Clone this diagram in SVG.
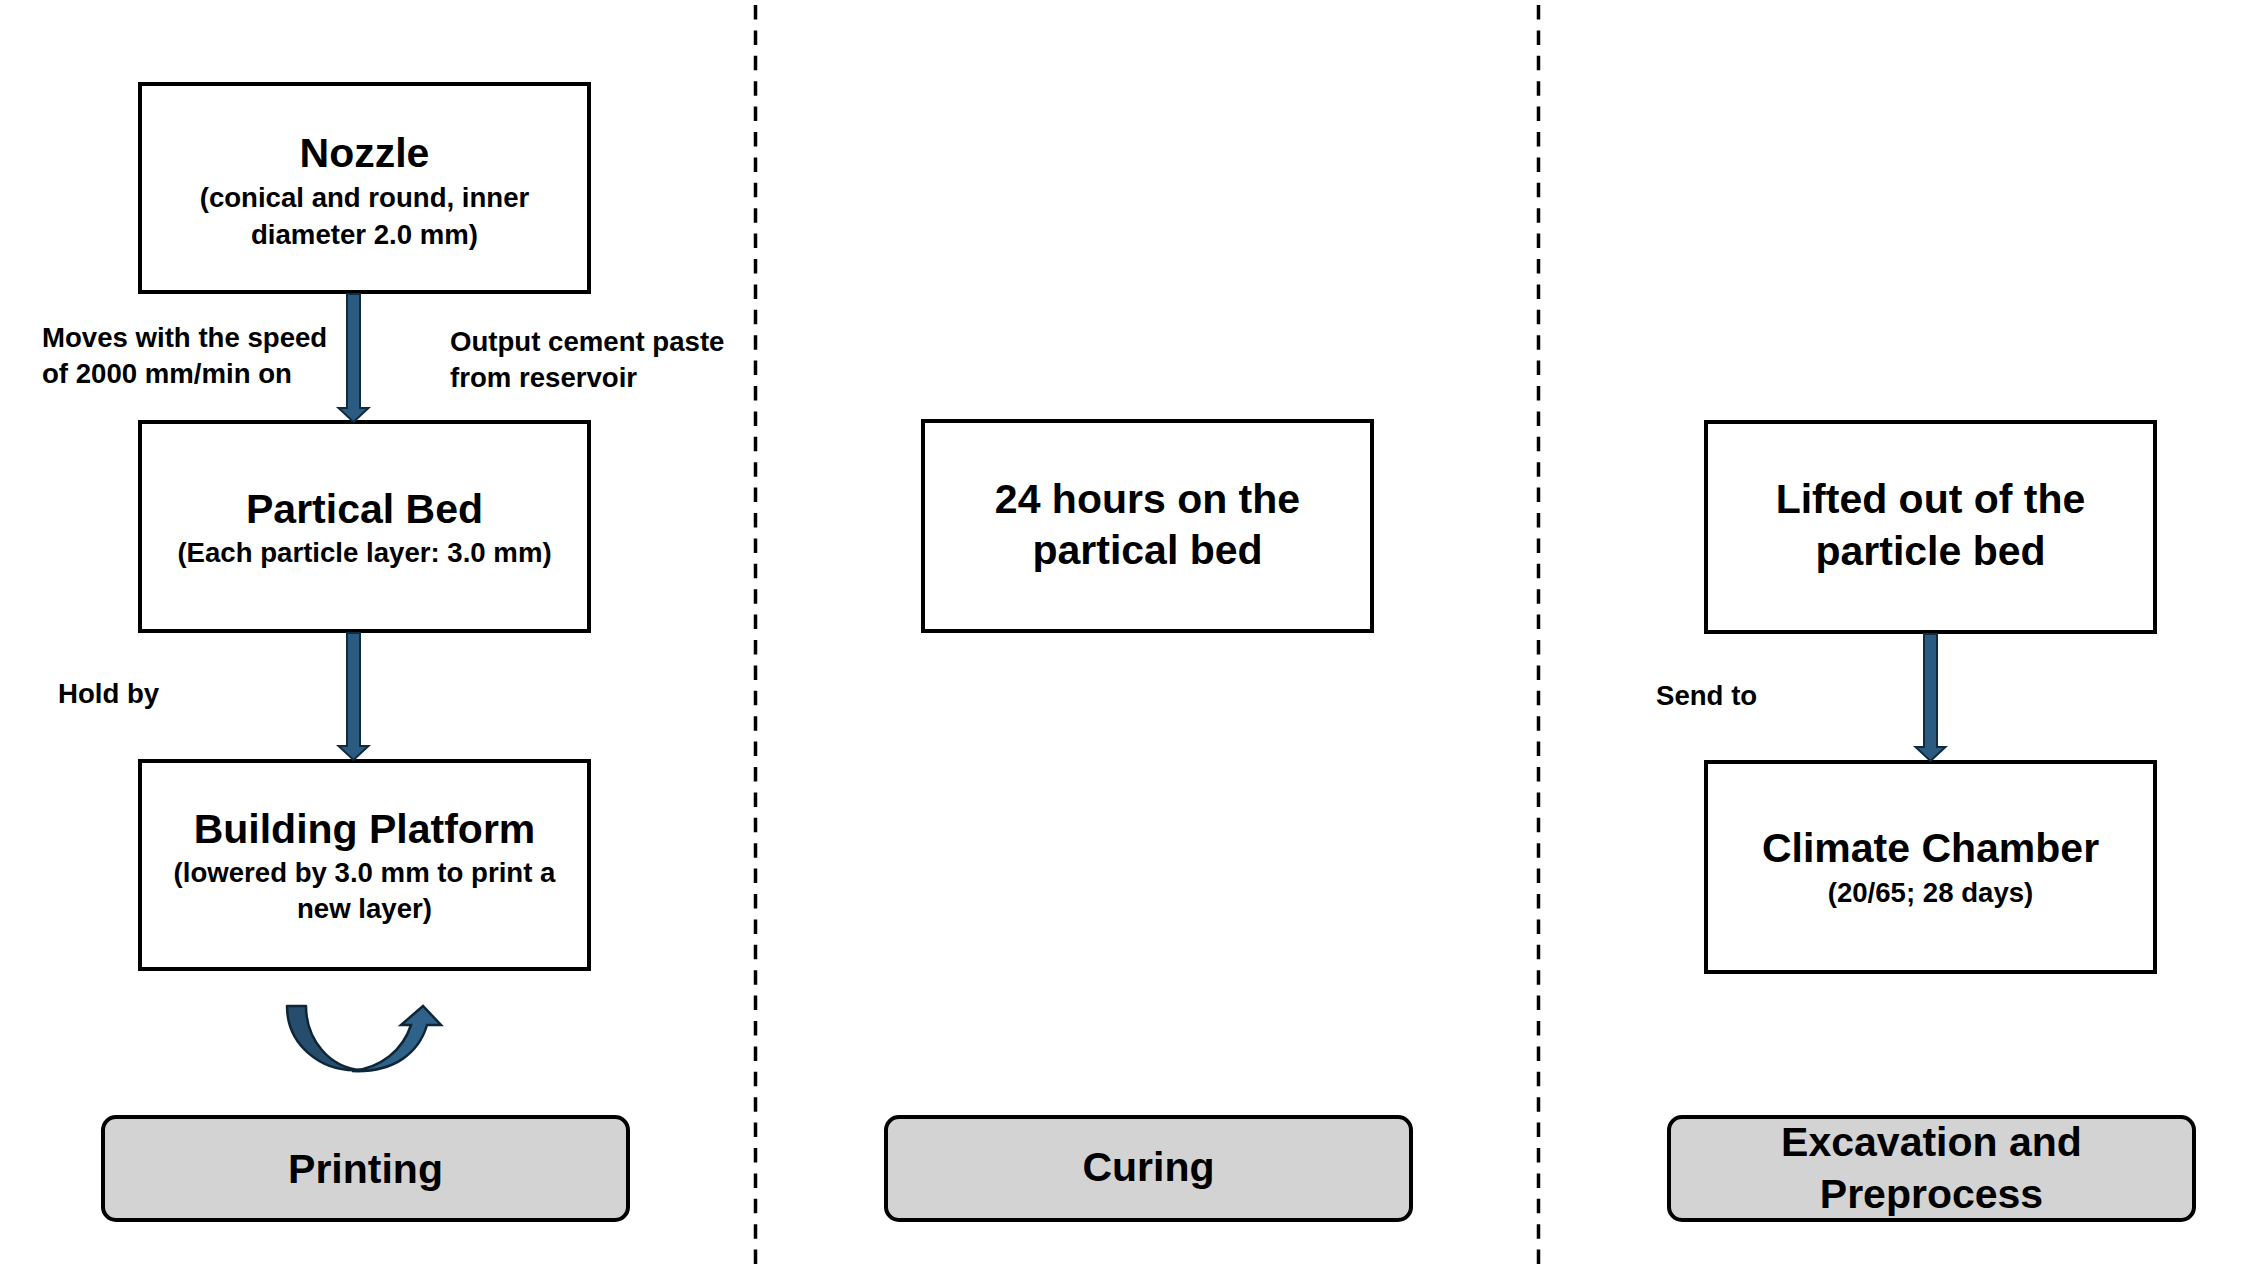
<svg xmlns="http://www.w3.org/2000/svg" width="2268" height="1266" viewBox="0 0 2268 1266">
<style>
  .box { fill: #ffffff; stroke: #000000; stroke-width: 4; }
  .phase { fill: #d3d3d3; stroke: #000000; stroke-width: 4; }
  .t { font-family: "Liberation Sans", Arial, sans-serif; font-weight: bold; fill: #000000; }
  .big { font-size: 41px; text-anchor: middle; }
  .small { font-size: 27.6px; text-anchor: middle; }
  .lbl { font-size: 27.6px; }
  .arrow { fill: #2b5b80; stroke: #0f2b40; stroke-width: 2; stroke-linejoin: miter; }
  .divider { stroke: #000000; stroke-width: 3.5; stroke-dasharray: 14.5 10.9; fill: none; }
</style>
<rect width="2268" height="1266" fill="#ffffff"/>

<g id="dividers">
  <line class="divider" x1="755.5" y1="5" x2="755.5" y2="1266"/>
  <line class="divider" x1="1538.5" y1="5" x2="1538.5" y2="1266"/>
</g>

<g id="nozzle">
  <rect class="box" x="140" y="84" width="449" height="208"/>
  <text class="t big" x="364.5" y="167">Nozzle</text>
  <text class="t small" x="364.5" y="207">(conical and round, inner</text>
  <text class="t small" x="364.5" y="244">diameter 2.0 mm)</text>
</g>

<g id="partical-bed">
  <rect class="box" x="140" y="422" width="449" height="209"/>
  <text class="t big" x="364.5" y="523">Partical Bed</text>
  <text class="t small" x="364.5" y="562">(Each particle layer: 3.0 mm)</text>
</g>

<g id="building-platform">
  <rect class="box" x="140" y="761" width="449" height="208"/>
  <text class="t big" x="364.5" y="843">Building Platform</text>
  <text class="t small" x="364.5" y="882">(lowered by 3.0 mm to print a</text>
  <text class="t small" x="364.5" y="918">new layer)</text>
</g>

<g id="curing-box">
  <rect class="box" x="923" y="421" width="449" height="210"/>
  <text class="t big" x="1147.5" y="513">24 hours on the</text>
  <text class="t big" x="1147.5" y="564">partical bed</text>
</g>

<g id="lifted">
  <rect class="box" x="1706" y="422" width="449" height="210"/>
  <text class="t big" x="1930.5" y="513">Lifted out of the</text>
  <text class="t big" x="1930.5" y="565">particle bed</text>
</g>

<g id="climate-chamber">
  <rect class="box" x="1706" y="762" width="449" height="210"/>
  <text class="t big" x="1930.5" y="862">Climate Chamber</text>
  <text class="t small" x="1930.5" y="902">(20/65; 28 days)</text>
</g>

<g id="printing">
  <rect class="phase" x="103" y="1117" width="525" height="103" rx="13" ry="13"/>
  <text class="t big" x="365.5" y="1183">Printing</text>
</g>

<g id="curing">
  <rect class="phase" x="886" y="1117" width="525" height="103" rx="13" ry="13"/>
  <text class="t big" x="1148.5" y="1181">Curing</text>
</g>

<g id="excavation">
  <rect class="phase" x="1669" y="1117" width="525" height="103" rx="13" ry="13"/>
  <text class="t big" x="1931.5" y="1156">Excavation and</text>
  <text class="t big" x="1931.5" y="1208">Preprocess</text>
</g>

<g id="connectors">
  <polygon class="arrow" points="347,294 360,294 360,408 368.5,408 353.5,422 338.5,408 347,408"/>
  <polygon class="arrow" points="347,633 360,633 360,746 368.5,746 353.5,760 338.5,746 347,746"/>
  <polygon class="arrow" points="1924,634 1937,634 1937,747 1945.5,747 1930.5,761 1915.5,747 1924,747"/>
  <g id="loop-arrow">
    <path fill="#264d6c" stroke="#0e2638" stroke-width="2.5" stroke-linejoin="round" d="M 287 1006 L 306 1006 C 306 1040 330 1068 361 1070 C 320 1073 287 1044 287 1006 Z"/>
    <path fill="#2e6288" stroke="#0e2638" stroke-width="2.5" stroke-linejoin="miter" d="M 352 1071 C 395 1073 419 1052 427 1025 L 441 1025 L 423 1006 L 401 1025 L 411 1025 C 403 1050 381 1068 352 1071 Z"/>
  </g>
</g>

<g id="labels">
  <text class="t lbl" x="42" y="347">Moves with the speed</text>
  <text class="t lbl" x="42" y="383">of 2000 mm/min on</text>
  <text class="t lbl" x="450" y="351">Output cement paste</text>
  <text class="t lbl" x="450" y="387">from reservoir</text>
  <text class="t lbl" x="58" y="703">Hold by</text>
  <text class="t lbl" x="1656" y="705">Send to</text>
</g>
</svg>
